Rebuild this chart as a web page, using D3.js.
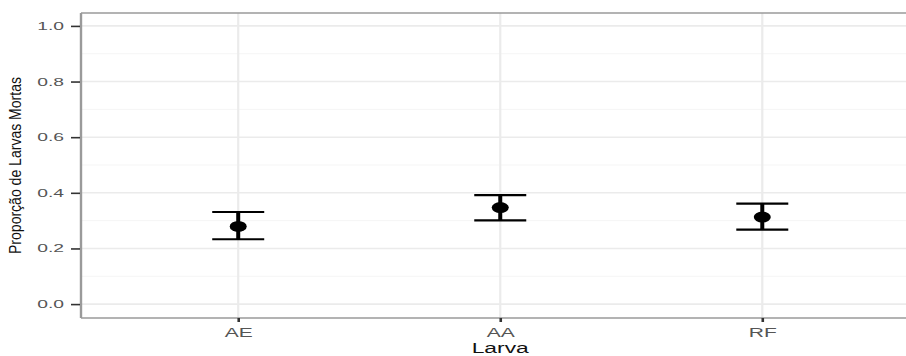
<!DOCTYPE html>
<html>
<head>
<meta charset="utf-8">
<script src="https://cdn.jsdelivr.net/npm/d3@7"></script>
<style>
  html, body { margin: 0; padding: 0; background: #fff; }
  svg { display: block; font-family: "Liberation Sans", Arial, sans-serif; }
</style>
</head>
<body>
<svg id="chart" width="906" height="356"></svg>
<script>
// Larval mortality by larva type: mean proportion with lower/upper interval
const categories = ["AE", "AA", "RF"];
const meanValues = [0.279, 0.347, 0.313];
const lowerValues = [0.233, 0.301, 0.268];
const upperValues = [0.331, 0.392, 0.361];
const yTicks = [0.0, 0.2, 0.4, 0.6, 0.8, 1.0];
const yMinorTicks = [0.1, 0.3, 0.5, 0.7, 0.9];
const xTitle = "Larva";
const yTitle = "Proporção de Larvas Mortas";

const svg = d3.select("#chart");

// panel extents (the panel runs slightly past the right edge of the canvas)
const panel = { left: 81, right: 919.5, top: 13, bottom: 318 };

const x = d3.scalePoint()
  .domain(categories)
  .range([panel.left, panel.right])
  .padding(0.6);

const y = d3.scaleLinear()
  .domain([-0.05, 1.05])
  .range([318, 12]);

// horizontal text in this figure is drawn wide
const wide = 1.75;

// gridlines
const grid = svg.append("g");
grid.selectAll("line.minor")
  .data(yMinorTicks)
  .join("line")
  .attr("x1", panel.left).attr("x2", panel.right)
  .attr("y1", d => y(d)).attr("y2", d => y(d))
  .attr("stroke", "#f5f5f5").attr("stroke-width", 1);
grid.selectAll("line.major")
  .data(yTicks)
  .join("line")
  .attr("x1", panel.left).attr("x2", panel.right)
  .attr("y1", d => y(d)).attr("y2", d => y(d))
  .attr("stroke", "#ebebeb").attr("stroke-width", 1.6);
grid.selectAll("line.vmajor")
  .data(categories)
  .join("line")
  .attr("x1", d => x(d)).attr("x2", d => x(d))
  .attr("y1", panel.top).attr("y2", panel.bottom)
  .attr("stroke", "#ebebeb").attr("stroke-width", 2.2);

// panel border
const border = svg.append("g").attr("stroke", "#9a9a9a");
border.append("line")
  .attr("x1", panel.left).attr("x2", panel.left)
  .attr("y1", panel.top).attr("y2", panel.bottom)
  .attr("stroke-width", 2.4);
border.append("line")
  .attr("x1", panel.left).attr("x2", panel.right)
  .attr("y1", panel.top).attr("y2", panel.top)
  .attr("stroke-width", 1.4);
border.append("line")
  .attr("x1", panel.left).attr("x2", panel.right)
  .attr("y1", panel.bottom).attr("y2", panel.bottom)
  .attr("stroke-width", 1.4);

// y axis
const yAxis = d3.axisLeft(y)
  .tickValues(yTicks)
  .tickFormat(d3.format(".1f"))
  .tickSize(9)
  .tickPadding(7);
const gy = svg.append("g")
  .attr("transform", `translate(${panel.left - 1},0)`)
  .call(yAxis);
gy.select(".domain").remove();
gy.selectAll(".tick line").attr("stroke", "#333").attr("stroke-width", 1.6);
gy.selectAll(".tick text")
  .attr("fill", "#555")
  .attr("font-size", 11)
  .attr("font-family", "Liberation Sans, Arial, sans-serif")
  .each(function () {
    const w = this.getComputedTextLength();
    d3.select(this).attr("textLength", w * wide).attr("lengthAdjust", "spacingAndGlyphs");
  });

// x axis
const xAxis = d3.axisBottom(x)
  .tickSize(4)
  .tickPadding(6);
const gx = svg.append("g")
  .attr("transform", `translate(0,${panel.bottom})`)
  .call(xAxis);
gx.select(".domain").remove();
gx.selectAll(".tick line").attr("stroke", "#333").attr("stroke-width", 2.6);
gx.selectAll(".tick text")
  .attr("fill", "#555")
  .attr("font-size", 12)
  .attr("font-family", "Liberation Sans, Arial, sans-serif")
  .each(function () {
    const w = this.getComputedTextLength();
    d3.select(this).attr("textLength", w * wide).attr("lengthAdjust", "spacingAndGlyphs");
  });

// axis titles
const xt = svg.append("text")
  .attr("x", x("AA"))
  .attr("y", 353)
  .attr("text-anchor", "middle")
  .attr("font-size", 14)
  .attr("fill", "#111")
  .text(xTitle);
xt.attr("textLength", xt.node().getComputedTextLength() * 1.63)
  .attr("lengthAdjust", "spacingAndGlyphs");

// rotated title, glyphs widened across the page like the rest of the text
const yt = svg.append("text")
  .attr("transform", `translate(20.5,${(panel.top + panel.bottom) / 2}) rotate(-90) scale(1,1.2)`)
  .attr("text-anchor", "middle")
  .attr("font-size", 14)
  .attr("fill", "#111")
  .text(yTitle);
yt.attr("textLength", 177)
  .attr("lengthAdjust", "spacingAndGlyphs");

// error bars and means
const rows = categories.map((c, i) => ({
  cat: c, mean: meanValues[i], lo: lowerValues[i], hi: upperValues[i]
}));
const capHalf = 26;
const marks = svg.append("g");
const bar = marks.selectAll("g.bar").data(rows).join("g");
bar.append("line")
  .attr("x1", d => x(d.cat)).attr("x2", d => x(d.cat))
  .attr("y1", d => y(d.lo)).attr("y2", d => y(d.hi))
  .attr("stroke", "#000").attr("stroke-width", 4);
bar.append("line")
  .attr("x1", d => x(d.cat) - capHalf).attr("x2", d => x(d.cat) + capHalf)
  .attr("y1", d => y(d.hi)).attr("y2", d => y(d.hi))
  .attr("stroke", "#000").attr("stroke-width", 2.2);
bar.append("line")
  .attr("x1", d => x(d.cat) - capHalf).attr("x2", d => x(d.cat) + capHalf)
  .attr("y1", d => y(d.lo)).attr("y2", d => y(d.lo))
  .attr("stroke", "#000").attr("stroke-width", 2.2);
bar.append("ellipse")
  .attr("cx", d => x(d.cat))
  .attr("cy", d => y(d.mean))
  .attr("rx", 8.5)
  .attr("ry", 5.5)
  .attr("fill", "#000");
</script>
</body>
</html>
